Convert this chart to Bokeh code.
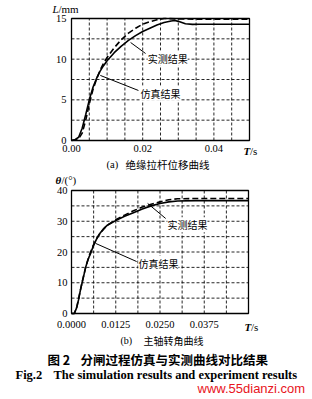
from bokeh.plotting import figure
from bokeh.models import Range1d, FixedTicker, Label, PrintfTickFormatter
from bokeh.layouts import column
from bokeh.embed import file_html
from bokeh.resources import INLINE

# ---------------- data: (a) insulating rod displacement ----------------
t_a_solid = [0, 0.001, 0.002, 0.003, 0.004, 0.005, 0.006, 0.007, 0.008, 0.009, 0.010,
             0.012, 0.014, 0.016, 0.018, 0.020, 0.022, 0.024, 0.026, 0.028, 0.029,
             0.030, 0.032, 0.034, 0.036, 0.040, 0.045, 0.050]
L_solid = [0, 0.1, 0.4, 1.5, 3.2, 5.0, 6.5, 7.6, 8.5, 9.2, 9.8,
           10.8, 11.6, 12.3, 12.9, 13.4, 13.8, 14.2, 14.5, 14.7, 14.75,
           14.65, 14.35, 14.28, 14.3, 14.3, 14.3, 14.3]
t_a_dashed = [0, 0.002, 0.003, 0.004, 0.005, 0.006, 0.007, 0.008, 0.009, 0.010,
              0.012, 0.014, 0.016, 0.018, 0.020, 0.022, 0.024, 0.026, 0.030, 0.040, 0.050]
L_dashed = [0, 0.2, 0.9, 2.5, 4.5, 6.2, 7.5, 8.6, 9.5, 10.2,
            11.4, 12.4, 13.2, 13.8, 14.3, 14.6, 14.85, 15.0, 14.95, 14.9, 14.9]

# ---------------- data: (b) main shaft rotation angle ----------------
t_b_solid = [0, 0.0008, 0.0015, 0.002, 0.0025, 0.003, 0.0035, 0.004, 0.0045, 0.005,
             0.0055, 0.006, 0.007, 0.008, 0.009, 0.010, 0.0115, 0.0125, 0.015, 0.0175,
             0.020, 0.0225, 0.025, 0.0275, 0.030, 0.035, 0.040, 0.050]
theta_solid = [0, 0, 2, 4.5, 7.5, 10, 12.5, 15, 17, 18.5,
               19.8, 21.5, 24, 26, 27.5, 28.6, 29.6, 30.2, 31.6, 32.8,
               34.0, 35.0, 35.8, 36.3, 36.6, 36.7, 36.7, 36.7]
t_b_dashed = [0, 0.0008, 0.0015, 0.002, 0.003, 0.004, 0.005, 0.006, 0.007, 0.008,
              0.010, 0.0125, 0.015, 0.0175, 0.020, 0.0225, 0.025, 0.0275, 0.030, 0.035, 0.050]
theta_dashed = [0, 0, 2.2, 4.8, 10.2, 15, 18.8, 21.8, 24.2, 26,
                28.6, 30.5, 32.0, 33.4, 34.6, 35.5, 36.3, 37.0, 37.3, 37.4, 37.4]

x_end_a, y_end_a = 0.05, 15
x_end_b, y_end_b = 0.05, 40
x_ticks_a = [0, 0.02, 0.04]
y_ticks_a = [0, 5, 10, 15]
x_grid_a = [0.005 * i for i in range(1, 10)]
y_grid_a = [2.5 * i for i in range(1, 6)]
x_ticks_b = [0, 0.0125, 0.025, 0.0375]
y_ticks_b = [0, 10, 20, 30, 40]
x_grid_b = [0.00625 * i for i in range(1, 8)]
y_grid_b = [5 * i for i in range(1, 8)]

# leader lines for annotations [x0, y0, x1, y1]
lead_a_meas = [0.0166, 12.05, 0.0208, 10.7]
lead_a_sim = [0.0081, 8.0, 0.0188, 6.15]
lead_b_meas = [0.0215, 35.8, 0.0266, 30.9]
lead_b_sim = [0.0068, 22.8, 0.0184, 16.9]

# annotation text anchors (x, y) in data units
txt_a_meas = (0.0214, 10.1)
txt_a_sim = (0.0194, 5.8)
txt_b_meas = (0.0271, 28.9)
txt_b_sim = (0.0189, 16.3)

SERIF = "Liberation Serif"
CJK = "Noto Sans CJK SC"
W = 312


def make_chart(h, box, x_end, y_end, xt, yt, xg, yg, fmt, x_standoff, y_standoff):
    """box = (left, right, top, bottom) of the chart frame in figure pixels."""
    left, right, top, bottom = box
    kx = x_end / (right - left)
    ky = y_end / (bottom - top)
    p = figure(width=W, height=h,
               x_range=Range1d(-left * kx, (W - left) * kx),
               y_range=Range1d(-(h - bottom) * ky, bottom * ky),
               output_backend="svg", toolbar_location=None, min_border=0,
               min_border_left=0, min_border_right=0, min_border_top=0, min_border_bottom=0)
    p.title.visible = False
    p.outline_line_color = None
    p.background_fill_color = "white"
    p.border_fill_color = "white"
    p.xgrid.visible = False
    p.ygrid.visible = False
    for ax in (p.xaxis[0], p.yaxis[0]):
        ax.fixed_location = 0
        ax.axis_line_color = None
        ax.major_tick_in = 0
        ax.major_tick_out = 0
        ax.minor_tick_in = 0
        ax.minor_tick_out = 0
        ax.major_label_text_font = SERIF
        ax.major_label_text_font_size = "10.5px"
        ax.major_label_text_color = "black"
    p.xaxis[0].ticker = FixedTicker(ticks=xt)
    p.xaxis[0].formatter = PrintfTickFormatter(format=fmt)
    p.xaxis[0].major_label_standoff = x_standoff
    p.yaxis[0].ticker = FixedTicker(ticks=yt)
    p.yaxis[0].major_label_standoff = y_standoff
    # dashed grid restricted to the chart box
    p.segment(x0=xg, y0=[0] * len(xg), x1=xg, y1=[y_end] * len(xg),
              line_color="black", line_dash="3 2", line_width=1, line_alpha=0.85)
    p.segment(x0=[0] * len(yg), y0=yg, x1=[x_end] * len(yg), y1=yg,
              line_color="black", line_dash="3 2", line_width=1, line_alpha=0.85)
    # chart frame
    p.quad(left=[0], right=[x_end], bottom=[0], top=[y_end], fill_color=None,
           line_color="black", line_width=1.3)
    return p


def txt(p, h, px, py, text, font=CJK, size="10px", style="normal", color="black",
        bg=None):
    lab = Label(x=px, y=h - py, x_units="screen", y_units="screen", text=text,
                text_font=font, text_font_size=size, text_font_style=style,
                text_align="left", text_baseline="middle", text_color=color)
    if bg:
        lab.background_fill_color = bg
    p.add_layout(lab)


def annot(p, xy, text):
    p.add_layout(Label(x=xy[0], y=xy[1], text=text, text_font=CJK, text_font_size="10px",
                       text_align="left", text_baseline="middle", text_color="black",
                       background_fill_color="white"))


# ---------------- figure (a) : page rows 0..172 ----------------
HA = 172
pa = make_chart(HA, (71, 249, 18, 140), x_end_a, y_end_a, x_ticks_a, y_ticks_a,
                x_grid_a, y_grid_a, "%.2f", 4, 5)
pa.line(t_a_solid, L_solid, line_color="black", line_width=1.6)
pa.line(t_a_dashed, L_dashed, line_color="black", line_width=1.6, line_dash="6 3")
pa.segment(x0=[lead_a_meas[0], lead_a_sim[0]], y0=[lead_a_meas[1], lead_a_sim[1]],
           x1=[lead_a_meas[2], lead_a_sim[2]], y1=[lead_a_meas[3], lead_a_sim[3]],
           line_color="black", line_width=1)
annot(pa, txt_a_meas, "实测结果")
annot(pa, txt_a_sim, "仿真结果")
txt(pa, HA, 52, 8, "L", font=SERIF, size="11px", style="italic")
txt(pa, HA, 58, 8, "/mm", font=SERIF, size="11px")
txt(pa, HA, 243, 150, "T", font=SERIF, size="11px", style="bold italic")
txt(pa, HA, 249.5, 150, "/s", font=SERIF, size="11px")
txt(pa, HA, 106, 163.5, "(a)", font=SERIF, size="10.5px")
txt(pa, HA, 125, 163.5, "绝缘拉杆位移曲线", size="10.5px")

# ---------------- figure (b) : page rows 172..399 ----------------
T0 = HA
HB = 399 - T0
pb = make_chart(HB, (71, 248, 190 - T0, 313 - T0), x_end_b, y_end_b, x_ticks_b, y_ticks_b,
                x_grid_b, y_grid_b, "%.4f", 7, 4)
pb.line(t_b_solid, theta_solid, line_color="black", line_width=1.6)
pb.line(t_b_dashed, theta_dashed, line_color="black", line_width=1.6, line_dash="6 3")
pb.segment(x0=[lead_b_meas[0], lead_b_sim[0]], y0=[lead_b_meas[1], lead_b_sim[1]],
           x1=[lead_b_meas[2], lead_b_sim[2]], y1=[lead_b_meas[3], lead_b_sim[3]],
           line_color="black", line_width=1)
annot(pb, txt_b_meas, "实测结果")
annot(pb, txt_b_sim, "仿真结果")
txt(pb, HB, 55, 179 - T0, "θ", font=SERIF, size="11px", style="bold italic")
txt(pb, HB, 61, 179 - T0, "/(°)", font=SERIF, size="11px")
txt(pb, HB, 244, 326 - T0, "T", font=SERIF, size="11px", style="bold italic")
txt(pb, HB, 250.5, 326 - T0, "/s", font=SERIF, size="11px")
txt(pb, HB, 120, 340 - T0, "(b)", font=SERIF, size="10px")
txt(pb, HB, 143, 340 - T0, "主轴转角曲线", size="10px")
txt(pb, HB, 47, 359 - T0, "图 2", size="12.5px", style="bold")
txt(pb, HB, 80, 359 - T0, "分闸过程仿真与实测曲线对比结果", size="12.5px", style="bold")
txt(pb, HB, 15, 374 - T0, "Fig.2", font=SERIF, size="12.5px", style="bold")
txt(pb, HB, 53, 374 - T0, "The simulation results and experiment results", font=SERIF,
    size="12.5px", style="bold")
txt(pb, HB, 197, 388 - T0, "www.55dianzi.com", font="Liberation Sans", size="13px",
    color="#e8141c")

layout = column(pa, pb, spacing=0)
open("out.html", "w").write(file_html(layout, INLINE))
